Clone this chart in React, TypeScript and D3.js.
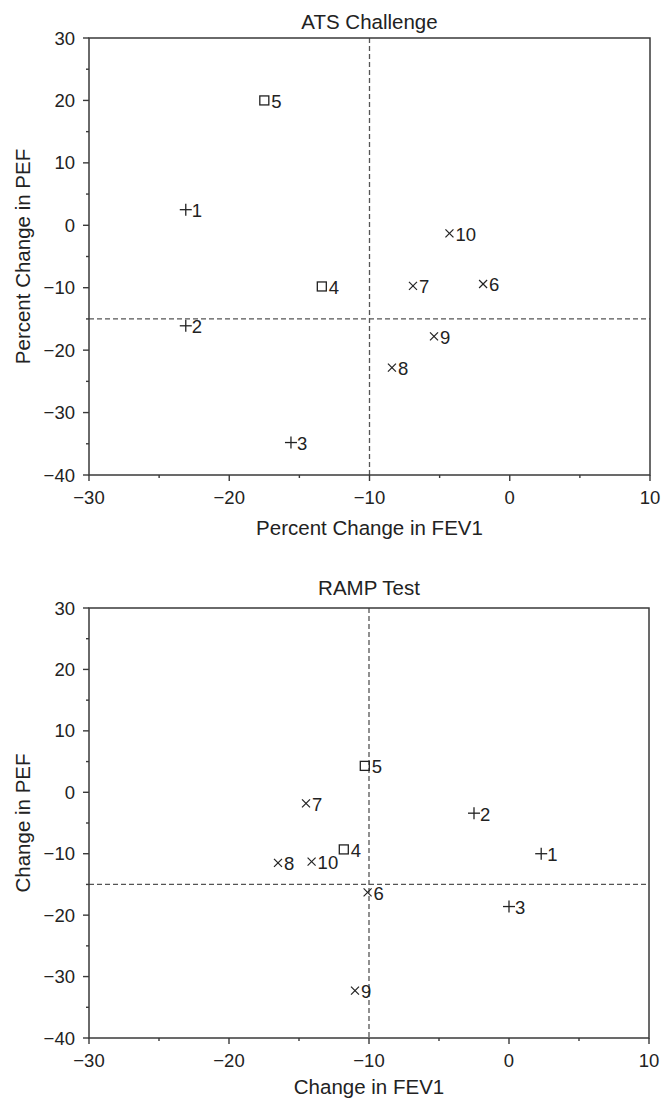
import React from "react";
import * as d3 from "d3";

const pointIds = [1, 2, 3, 4, 5, 6, 7, 8, 9, 10];
const markerTypes = ["plus", "plus", "plus", "square", "square", "x", "x", "x", "x", "x"];

const atsFev1 = [-23.1, -23.1, -15.6, -13.4, -17.5, -1.9, -6.9, -8.4, -5.4, -4.3];
const atsPef = [2.5, -16.1, -34.8, -9.8, 20.0, -9.4, -9.7, -22.8, -17.8, -1.3];

const rampFev1 = [2.3, -2.5, 0.0, -11.8, -10.3, -10.1, -14.5, -16.5, -11.0, -14.1];
const rampPef = [-10.0, -3.4, -18.6, -9.3, 4.3, -16.3, -1.8, -11.5, -32.3, -11.3];

const xDomain = [-30, 10];
const yDomain = [-40, 30];
const xMajorTicks = [-30, -20, -10, 0, 10];
const xMinorTicks = [-25, -15, -5, 5];
const yMajorTicks = [-40, -30, -20, -10, 0, 10, 20, 30];
const yMinorTicks = [-35, -25, -15, -5, 5, 15, 25];
const refX = -10;
const refY = -15;

const FONT = "'Liberation Sans', Arial, Helvetica, sans-serif";
const AXIS = "#3a3a3a";
const TEXT = "#222";
const fmt = d3.format("d");

function Marker({ type, cx, cy }) {
  if (type === "plus") {
    return (
      <g stroke={TEXT} strokeWidth={1.3}>
        <line x1={cx - 6} x2={cx + 6} y1={cy} y2={cy} />
        <line x1={cx} x2={cx} y1={cy - 6} y2={cy + 6} />
      </g>
    );
  }
  if (type === "square") {
    return <rect x={cx - 4.5} y={cy - 4.5} width={9} height={9} fill="none" stroke={TEXT} strokeWidth={1.3} />;
  }
  return (
    <g stroke={TEXT} strokeWidth={1.2}>
      <line x1={cx - 4} x2={cx + 4} y1={cy - 4} y2={cy + 4} />
      <line x1={cx - 4} x2={cx + 4} y1={cy + 4} y2={cy - 4} />
    </g>
  );
}

function Panel({ title, xLabel, yLabel, xs, ys, left, right, top, bottom, titleY, xLabelY }) {
  const x = d3.scaleLinear().domain(xDomain).range([left, right]);
  const y = d3.scaleLinear().domain(yDomain).range([bottom, top]);
  const cxm = (left + right) / 2;
  const cym = (top + bottom) / 2;
  return (
    <g fontFamily={FONT} fill={TEXT}>
      <text x={cxm} y={titleY} textAnchor="middle" fontSize={20.5}>{title}</text>
      {/* reference lines */}
      <line x1={x(refX)} x2={x(refX)} y1={top} y2={bottom} stroke="#555" strokeWidth={1.3} strokeDasharray="5,3" />
      <line x1={left} x2={right} y1={y(refY)} y2={y(refY)} stroke="#555" strokeWidth={1.3} strokeDasharray="5,3" />
      {/* frame */}
      <rect x={left} y={top} width={right - left} height={bottom - top} fill="none" stroke={AXIS} strokeWidth={1.5} />
      {/* x ticks */}
      {xMajorTicks.map((t) => (
        <g key={"xm" + t}>
          <line x1={x(t)} x2={x(t)} y1={bottom} y2={bottom + 6} stroke={AXIS} strokeWidth={1.4} />
          <text x={x(t)} y={bottom + 29} textAnchor="middle" fontSize={18.5}>{fmt(t)}</text>
        </g>
      ))}
      {xMinorTicks.map((t) => (
        <line key={"xn" + t} x1={x(t)} x2={x(t)} y1={bottom} y2={bottom + 3} stroke={AXIS} strokeWidth={1.4} />
      ))}
      {/* y ticks */}
      {yMajorTicks.map((t) => (
        <g key={"ym" + t}>
          <line x1={left - 6} x2={left} y1={y(t)} y2={y(t)} stroke={AXIS} strokeWidth={1.4} />
          <text x={left - 14} y={y(t) + 6.5} textAnchor="end" fontSize={18.5}>{fmt(t)}</text>
        </g>
      ))}
      {yMinorTicks.map((t) => (
        <line key={"yn" + t} x1={left - 3} x2={left} y1={y(t)} y2={y(t)} stroke={AXIS} strokeWidth={1.4} />
      ))}
      {/* axis labels */}
      <text x={cxm} y={xLabelY} textAnchor="middle" fontSize={20.5}>{xLabel}</text>
      <text transform={`translate(30,${cym}) rotate(-90)`} textAnchor="middle" fontSize={20.5}>{yLabel}</text>
      {/* points */}
      {pointIds.map((id, i) => {
        const cx = x(xs[i]);
        const cy = y(ys[i]);
        const type = markerTypes[i];
        return (
          <g key={"p" + id}>
            <Marker type={type} cx={cx} cy={cy} />
            <text x={cx + (type === "square" ? 7 : 6)} y={cy + 7.5} fontSize={18.5}>{id}</text>
          </g>
        );
      })}
    </g>
  );
}

export default function App() {
  return (
    <svg width={661} height={1098} style={{ position: "absolute", left: 0, top: 0, background: "#fff" }}>
      <rect width={661} height={1098} fill="#fff" />
      <Panel
        title="ATS Challenge"
        xLabel="Percent Change in FEV1"
        yLabel="Percent Change in PEF"
        xs={atsFev1}
        ys={atsPef}
        left={89}
        right={650}
        top={38}
        bottom={475}
        titleY={29}
        xLabelY={535}
      />
      <Panel
        title="RAMP Test"
        xLabel="Change in FEV1"
        yLabel="Change in PEF"
        xs={rampFev1}
        ys={rampPef}
        left={89}
        right={649}
        top={608}
        bottom={1038}
        titleY={595}
        xLabelY={1094}
      />
    </svg>
  );
}
